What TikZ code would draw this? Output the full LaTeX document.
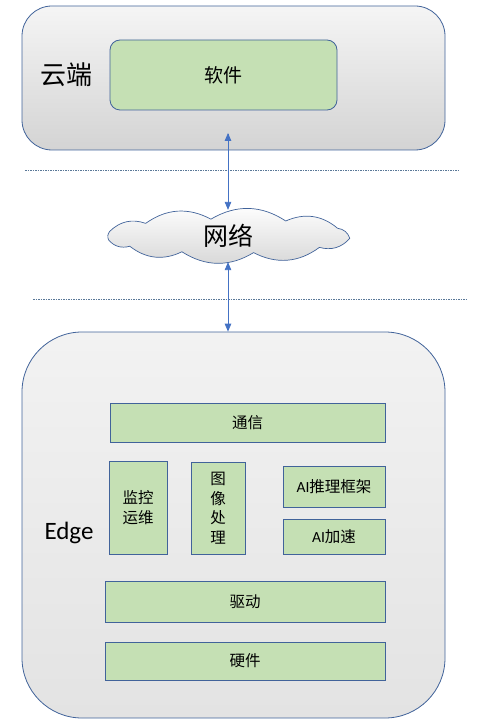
\documentclass[tikz,border=0pt]{standalone}
\usepackage{fontspec}
\setmainfont{Carlito}
\newfontfamily\cjk{Noto Sans CJK SC}
\usetikzlibrary{shapes,arrows,calc}
\definecolor{boxblue}{HTML}{41639A}
\definecolor{arrowblue}{HTML}{4472C4}
\definecolor{sepblue}{HTML}{5A7898}
\definecolor{boxgreen}{HTML}{C5E0B4}
\tikzset{%
	zone/.style     	= {draw = boxblue, line width = 0.8pt, rectangle, top color = black!4, bottom color = black!17},
	soft/.style     	= {draw = boxblue, line width = 0.8pt, rectangle, rounded corners = 10pt, fill = boxgreen, font = \cjk\fontsize{19}{22}\selectfont},
	layer/.style    	= {draw = boxblue, line width = 0.8pt, rectangle, fill = boxgreen, align = center, font = \fontsize{15.5}{19.5}\selectfont},
	puffs/.style    	= {draw = boxblue, line width = 0.7pt, top color = white, bottom color = black!16}, % Cloud outline
	netlabel/.style 	= {ellipse, inner sep = 0pt, minimum width = 244pt, minimum height = 52pt, font = \cjk\fontsize{25}{27}\selectfont},
	link/.style     	= {<->, draw = arrowblue, line width = 0.8pt},
	sep/.style      	= {draw = sepblue, line width = 0.5pt, dash pattern = on 1.5pt off 1pt} % Separator
}
\newcommand{\zh}[1]{{\cjk #1}}

\begin{document}
\begin{tikzpicture}[x = 1pt, y = -1pt, >=triangle 45]
	\useasboundingbox (0, 0) rectangle (477, 727);
	\draw % Drawing the cloud side
	node at (233.5, 78) [zone, rounded corners = 30pt, minimum width = 423pt, minimum height = 144pt] (cloudbox) {}
	node at (223.5, 75) [soft, minimum width = 227pt, minimum height = 70pt] (software) {软件}
	node at (66, 75) (cloudlabel) {\cjk\fontsize{26}{28}\selectfont 云端}
	;
	
	% Drawing the network cloud
	\coordinate (netc) at (228, 236);
	\foreach \a [count = \i] in {166, 196, 228, 262, 298, 333, 8, 42, 78, 112, 143}
		\coordinate (c\i) at ($(netc) + ({123*cos(\a)}, {17*sin(\a)})$);
	\draw[puffs] (c1) to[bend left = 32] (c2) to[bend left = 32] (c3) to[bend left = 32] (c4)
		to[bend left = 32] (c5) to[bend left = 32] (c6) to[bend left = 32] (c7) to[bend left = 32] (c8)
		to[bend left = 32] (c9) to[bend left = 32] (c10) to[bend left = 32] (c11) to[bend left = 32] (c1) -- cycle;
	\node at (netc) [netlabel] (net) {网络};
	
	% Drawing the edge side
	\node at (233.5, 525) [zone, rounded corners = 60pt, minimum width = 423pt, minimum height = 386pt, top color = black!5, middle color = black!15, bottom color = black!11] (edgebox) {};
	\node at (69, 533) (edgelabel) {\fontsize{25}{28}\selectfont Edge};
	\node at (247.5, 422.5) [layer, minimum width = 275pt, minimum height = 39pt] (comm) {\zh{通信}};
	\node at (138, 507.5) [layer, minimum width = 58pt, minimum height = 93pt] (monitor) {\zh{监控}\\\zh{运维}};
	\node at (218, 508) [layer, minimum width = 54pt, minimum height = 92pt] (imaging) {\zh{图}\\\zh{像}\\\zh{处}\\\zh{理}};
	\node at (334, 486.5) [layer, minimum width = 102pt, minimum height = 41pt] (aiframe) {AI\zh{推理框架}};
	\node at (334, 536.5) [layer, minimum width = 102pt, minimum height = 35pt] (aiaccel) {AI\zh{加速}};
	\node at (245, 601.5) [layer, minimum width = 280pt, minimum height = 41pt] (driver) {\zh{驱动}};
	\node at (245, 661) [layer, minimum width = 280pt, minimum height = 38pt] (hardware) {\zh{硬件}};
	
	% Separators
	\coordinate (sepa) at (25, 170);
	\coordinate (sepb) at (460, 170);
	\coordinate (sepc) at (33, 299);
	\coordinate (sepd) at (466, 299);
	\draw[sep] (sepa) -- (sepb);
	\draw[sep] (sepc) -- (sepd);
	
	% Drawing the arrows
	\coordinate (up) at (228, 133);
	\draw[link] (up) -- (net.north);
	\draw[link] (net.south) -- (net.south |- edgebox.north);
\end{tikzpicture}
\end{document}
